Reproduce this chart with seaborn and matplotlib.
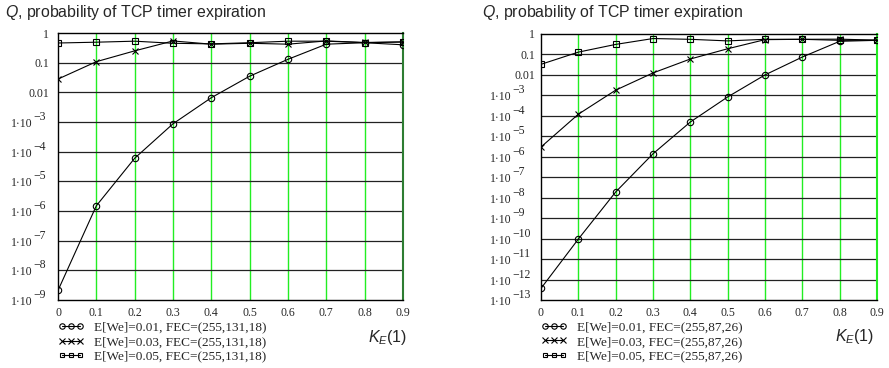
import numpy as np
import pandas as pd
import seaborn as sns
import matplotlib
matplotlib.use("Agg")
import matplotlib.pyplot as plt
from matplotlib.ticker import FixedLocator, NullLocator
from matplotlib.transforms import offset_copy

# ---- data ----
kE = [0.0, 0.1, 0.2, 0.3, 0.4, 0.5, 0.6, 0.7, 0.8, 0.9]

left_we01 = [2.1e-9, 1.5e-6, 6e-5, 8.7e-4, 6.6e-3, 0.035, 0.13, 0.42, 0.47, 0.40]
left_we03 = [0.028, 0.108, 0.25, 0.54, 0.42, 0.45, 0.42, 0.54, 0.48, 0.50]
left_we05 = [0.46, 0.49, 0.53, 0.45, 0.43, 0.47, 0.53, 0.53, 0.47, 0.50]

right_we01 = [3.7e-13, 9.5e-11, 1.9e-8, 1.4e-6, 5e-5, 8.4e-4, 0.010, 0.075, 0.44, 0.49]
right_we03 = [3e-6, 1.2e-4, 1.8e-3, 0.0125, 0.06, 0.19, 0.53, 0.55, 0.56, 0.50]
right_we05 = [0.033, 0.13, 0.31, 0.60, 0.55, 0.46, 0.55, 0.55, 0.49, 0.50]

left_labels = ["E[We]=0.01, FEC=(255,131,18)",
               "E[We]=0.03, FEC=(255,131,18)",
               "E[We]=0.05, FEC=(255,131,18)"]
right_labels = ["E[We]=0.01, FEC=(255,87,26)",
                "E[We]=0.03, FEC=(255,87,26)",
                "E[We]=0.05, FEC=(255,87,26)"]

title_text = r"$Q$, probability of TCP timer expiration"
xlabel_text = r"$K_E$(1)"

left_exps = list(range(0, -10, -1))
right_exps = list(range(0, -14, -1))
x_ticks = kE
markers = ["o", "x", "s"]
marker_sizes = {"o": 4.6, "x": 5.0, "s": 4.0}

sns.set_style("white")
plt.rcParams["font.family"] = ["Liberation Sans", "DejaVu Sans"]
plt.rcParams["mathtext.fontset"] = "custom"
plt.rcParams["mathtext.rm"] = "Liberation Sans"
plt.rcParams["mathtext.it"] = "Liberation Sans:italic"
plt.rcParams["mathtext.bf"] = "Liberation Sans:bold"

fig = plt.figure(figsize=(8.89, 3.68), dpi=100)
axL = fig.add_axes([58/889, 1-300/368, 345/889, 267/368])
axR = fig.add_axes([541/889, 1-300/368, 336/889, 266/368])

SERIF = "Liberation Serif"
TICK_FS = 8.5


def draw(ax, series, labels, exps, title_x, right_col, base_off, plain_off,
         xlab_x):
    for vals, lab, mk in zip(series, labels, markers):
        df = pd.DataFrame({"k": kE, "q": vals})
        sns.lineplot(data=df, x="k", y="q", color="black", marker=mk,
                     markersize=marker_sizes[mk],
                     markerfacecolor="none", markeredgecolor="black",
                     markeredgewidth=0.8, linewidth=0.8, ax=ax, label=lab,
                     zorder=5)
    ax.set_yscale("log")
    ax.set_ylim(10.0 ** exps[-1], 1)
    ax.set_xlim(0, 0.9)
    for x in x_ticks[1:-1]:
        ax.axvline(x, color="#22ee22", lw=1.0, zorder=1)
    for e in exps[1:-1]:
        ax.axhline(10.0 ** e, color="#222222", lw=0.9, zorder=1)
    for sp in ["left", "top", "bottom"]:
        ax.spines[sp].set_color("black")
        ax.spines[sp].set_linewidth(1.0)
    ax.spines["right"].set_color(right_col)
    ax.spines["right"].set_linewidth(1.5)
    ax.yaxis.set_major_locator(FixedLocator([10.0 ** e for e in exps]))
    ax.yaxis.set_minor_locator(NullLocator())
    ax.set_yticklabels([""] * len(exps))
    ax.set_xticks(x_ticks)
    ax.set_xticklabels([("0" if v == 0 else "%g" % v) for v in x_ticks])
    ax.tick_params(length=0, labelsize=TICK_FS, pad=5)
    for t in ax.get_xticklabels():
        t.set_fontfamily(SERIF)
    ax.set_xlabel("")
    ax.set_ylabel("")

    # y tick labels in Mathcad style
    ytr = ax.get_yaxis_transform()
    for e in exps:
        v = 10.0 ** e
        if e >= -2:
            txt = {0: "1", -1: "0.1", -2: "0.01"}[e]
            tr = offset_copy(ytr, fig=fig, x=plain_off, y=-1.5, units="dots")
            ax.text(0, v, txt, transform=tr, ha="right", va="center",
                    fontsize=TICK_FS, family=SERIF)
        else:
            tr = offset_copy(ytr, fig=fig, x=base_off, y=-2, units="dots")
            ax.text(0, v, "1·10", transform=tr, ha="right", va="center",
                    fontsize=TICK_FS, family=SERIF)
            tr2 = offset_copy(ytr, fig=fig, x=base_off + 0.5, y=5,
                              units="dots")
            ax.text(0, v, "\u2212%d" % (-e), transform=tr2, ha="left",
                    va="center", fontsize=TICK_FS, family=SERIF)

    h, l = ax.get_legend_handles_labels()
    ax.legend(h, l, loc="upper left", bbox_to_anchor=(-0.02, -0.055),
              frameon=False, numpoints=3, handlelength=2.0, markerscale=0.85,
              labelspacing=0.18, borderpad=0, handletextpad=0.75,
              prop={"family": SERIF, "size": 9.5})
    ax.text(xlab_x, -0.139, xlabel_text, transform=ax.transAxes, ha="right",
            va="center", fontsize=11.5)
    fig.text(title_x / 889, 1 - 13 / 368, title_text, ha="left", va="center",
             fontsize=11.4)


draw(axL, [left_we01, left_we03, left_we05], left_labels, left_exps, 5,
     "#2e7d32", base_off=-25, plain_off=-9, xlab_x=1.012)
draw(axR, [right_we01, right_we03, right_we05], right_labels, right_exps, 482,
     "#22ee22", base_off=-29, plain_off=-6, xlab_x=0.992)

fig.savefig("out.png", dpi=100)
